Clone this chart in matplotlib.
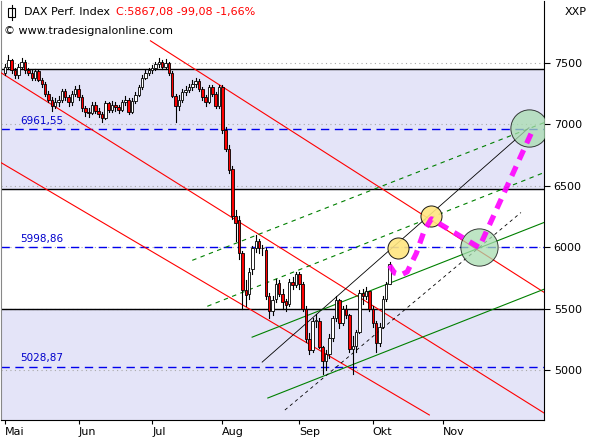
import matplotlib
matplotlib.use("Agg")
import matplotlib.pyplot as plt
from matplotlib.patches import Rectangle

opens = [7420,7470,7520,7440,7400,7470,7510,7440,7420,7380,7430,7360,7330,7250,7200,7150,7180,7200,7270,7220,7180,7250,
         7290,7220,7130,7100,7090,7160,7110,7080,7050,7170,7120,7160,7140,7120,7180,7200,7100,7190,7240,7300,7380,7420,
         7440,7460,7490,7510,7470,7500,7420,7230,7150,7200,7260,7280,7300,7330,7350,7290,7220,7180,7300,7250,7150,
         7300,6950,6800,6640,6250,6220,5950,5650,5620,5820,5990,6050,5990,5980,5600,5480,5580,5710,5620,5560,5540,5720,5690,
         5780,5700,5500,5250,5160,5400,5400,5190,5070,5130,5260,5420,5570,5380,5500,5450,5170,5200,5310,5630,5600,5640,
         5500,5380,5220,5350,5580,5700]
closes = [7470,7520,7440,7400,7470,7510,7440,7420,7380,7430,7360,7330,7250,7200,7150,7180,7200,7270,7220,7180,7250,7290,
          7220,7130,7100,7090,7160,7110,7080,7050,7170,7120,7160,7140,7120,7180,7200,7100,7190,7240,7300,7380,7420,7440,
          7460,7490,7510,7470,7500,7420,7230,7150,7200,7260,7280,7300,7330,7350,7290,7220,7180,7300,7250,7150,7300,
          6950,6800,6630,6250,6200,5950,5650,5610,5800,5990,6050,5990,5990,5600,5480,5570,5700,5620,5550,5530,5720,5690,5780,
          5700,5500,5250,5160,5400,5400,5190,5070,5130,5260,5420,5570,5380,5500,5450,5170,5200,5310,5630,5600,5640,5500,
          5380,5220,5350,5580,5700,5867]
highs = [7490,7560,7530,7460,7490,7540,7520,7460,7440,7450,7440,7380,7340,7270,7220,7210,7230,7290,7290,7240,7270,7310,
         7320,7240,7150,7130,7180,7180,7130,7100,7190,7180,7190,7180,7160,7200,7230,7210,7210,7260,7320,7400,7440,7460,
         7480,7510,7540,7520,7530,7510,7430,7250,7240,7290,7310,7330,7360,7380,7370,7300,7240,7320,7320,7260,7320,
         7320,6980,6830,6660,6300,6250,5970,5730,5830,6010,6100,6070,6020,5990,5630,5600,5740,5730,5660,5580,5740,5760,5800,
         5800,5720,5520,5300,5420,5460,5420,5200,5160,5290,5440,5600,5580,5520,5530,5460,5280,5330,5650,5660,5680,5640,
         5520,5400,5380,5600,5720,5880]
lows = [7400,7450,7420,7380,7380,7450,7420,7400,7360,7360,7350,7300,7230,7180,7110,7130,7150,7180,7200,7150,7160,7230,
        7200,7110,7070,7060,7080,7090,7060,7020,7040,7100,7100,7110,7090,7110,7160,7080,7090,7170,7230,7290,7370,7400,
        7420,7440,7470,7450,7450,7400,7220,7020,7120,7180,7240,7260,7280,7300,7270,7200,7150,7170,7230,7130,7130,
        6930,6780,6600,6230,6050,5900,5500,5520,5580,5780,5960,5950,5940,5580,5420,5450,5550,5600,5500,5480,5520,5660,5680,
        5660,5480,5230,5130,5150,5350,5180,4965,5000,5100,5240,5400,5340,5370,5420,5150,4970,5150,5300,5540,5580,5480,
        5350,5150,5200,5340,5560,5700]

month_labels = ["Mai", "Jun", "Jul", "Aug", "Sep", "Okt", "Nov"]
month_starts = [0, 22, 44, 65, 88, 110, 131]
y_ticks = [5000, 5500, 6000, 6500, 7000, 7500]
levels = [6961.55, 5998.86, 5028.87]
level_labels = ["6961,55", "5998,86", "5028,87"]
zone_lines = [7450, 6470, 5500]

red_lines = [((43.5, 7679), (161.2, 5633)), ((-1.2, 7419), (161.2, 4651)), ((-1.2, 6688), (126.9, 4635))]
green_dashed = [((56.0, 5893), (161.2, 7013)), ((60.5, 5519), (161.2, 6607))]
green_solid = [((73.9, 5268), (161.2, 6201)), ((78.6, 4773), (161.2, 5658))]
black_thin = [((76.9, 5065), (156.7, 6972))]
black_dashed = [((83.7, 4675), (154.3, 6282))]
path_x = [115.0, 116.5, 118.5, 120.3, 123.0, 125.4, 127.5, 141.8, 157.6]
path_y = [5852, 5790, 5775, 5800, 5950, 6136, 6230, 5998, 6940]
orange_x = [117.4, 127.5]
orange_y = [5990, 6250]
green_x = [141.8, 156.7]
green_y = [5998, 6972]

fig = plt.figure(figsize=(5.95, 4.4), dpi=100)
ax = fig.add_axes([0.0017, 20/440, 543/595, 419/440])
xmin, xmax, ymin, ymax = -1.2, 161.2, 4594, 8003
ax.set_xlim(xmin, xmax)
ax.set_ylim(ymin, ymax)

band = "#E4E4F8"
ax.axhspan(zone_lines[1], zone_lines[0], color=band, zorder=0)
ax.axhspan(ymin, zone_lines[2], color=band, zorder=0)
for t in y_ticks:
    ax.axhline(t, color="#AAAAAA", lw=0.8, ls=(0, (1, 3)), zorder=1)
for z in zone_lines:
    ax.axhline(z, color="black", lw=1.0, zorder=2)
for lv, lb in zip(levels, level_labels):
    ax.axhline(lv, color="#0000EE", lw=1.0, ls=(0, (6, 4)), zorder=2)
    ax.text(4.5, lv + 25, lb, color="#0000CC", fontsize=7.5, va="bottom", ha="left", zorder=6)

def seg(lines, **kw):
    for (x0, y0), (x1, y1) in lines:
        ax.plot([x0, x1], [y0, y1], **kw)

seg(red_lines, color="red", lw=0.8, zorder=3)
seg(green_dashed, color="green", lw=0.8, ls=(0, (4, 4)), zorder=3)
seg(green_solid, color="green", lw=0.8, zorder=3)
seg(black_thin, color="black", lw=0.6, zorder=3)
seg(black_dashed, color="black", lw=0.6, ls=(0, (4, 4)), zorder=3)

w = 0.75
for i, (o, h, l, c) in enumerate(zip(opens, highs, lows, closes)):
    ax.plot([i, i], [l, h], color="black", lw=0.8, zorder=4)
    up = c >= o
    ax.add_patch(Rectangle((i - w/2, min(o, c)), w, max(abs(c - o), 4),
                           facecolor="white" if up else "red", edgecolor="black", lw=0.6, zorder=5))

ax.scatter(orange_x, orange_y, s=230, facecolor="#FFE680", edgecolor="black", lw=0.7, alpha=0.9, zorder=6)
ax.scatter(green_x, green_y, s=720, facecolor="#A8DDB0", edgecolor="black", lw=0.7, alpha=0.75, zorder=6)
ax.plot(path_x, path_y, color="#FF00FF", lw=3.8, ls=(0, (2.0, 1.4)), zorder=7, alpha=0.9)

ax.yaxis.tick_right()
ax.set_yticks(y_ticks)
ax.set_yticklabels([str(t) for t in y_ticks], fontsize=8)
ax.tick_params(axis="y", length=4, pad=3, colors="black")
ax.set_xticks(month_starts)
ax.set_xticklabels(month_labels, fontsize=8, ha="left")
ax.tick_params(axis="x", length=3, pad=2)
for s in ["top"]:
    ax.spines[s].set_visible(False)
ax.spines["right"].set_color("black")
ax.spines["bottom"].set_color("black")
ax.spines["left"].set_color("#888888")

fig.text(565/595, 1 - 12/440, "XXP", fontsize=8, va="center", ha="left")
fig.text(24/595, 1 - 12/440, "DAX Perf. Index", fontsize=8, va="center", ha="left")
fig.text(116/595, 1 - 12/440, "C:5867,08 -99,08 -1,66%", fontsize=8, va="center", ha="left", color="red")
fig.text(4/595, 1 - 31/440, "© www.tradesignalonline.com", fontsize=8, va="center", ha="left")
fig.add_artist(Rectangle((8/595, 1 - 17/440), 7/595, 9/440, transform=fig.transFigure, fill=False, lw=0.8, ec="black"))
fig.add_artist(plt.Line2D([11.5/595, 11.5/595], [1 - 20/440, 1 - 5/440], transform=fig.transFigure, lw=0.8, color="black"))

fig.savefig("out.png", dpi=100)
